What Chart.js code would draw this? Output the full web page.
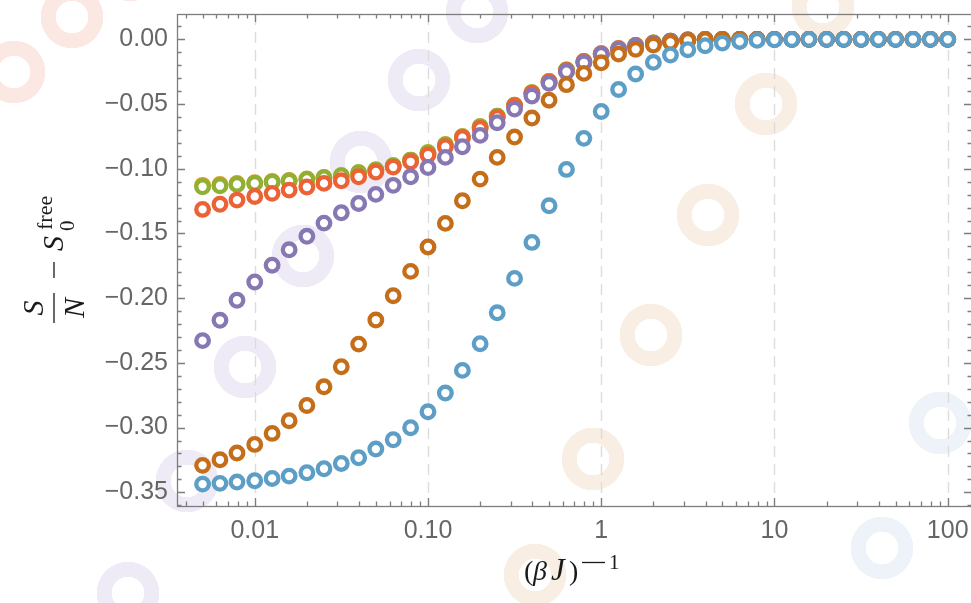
<!DOCTYPE html>
<html>
<head>
<meta charset="utf-8">
<script src="https://cdn.jsdelivr.net/npm/chart.js@4.4.1/dist/chart.umd.min.js"></script>
<style>
  html, body { margin: 0; padding: 0; background: #fff; overflow: hidden; }
  #wrap {
    position: relative; width: 971px; height: 603px; overflow: hidden; background: #fff;
    /* faint decorative rings behind the plot */
    background-image:
      radial-gradient(circle at 14px 72px, transparent 16px, #fce8e3 16.5px, #fce8e3 31px, transparent 31.5px),
      radial-gradient(circle at 72px 17px, transparent 16px, #fce8e3 16.5px, #fce8e3 31px, transparent 31.5px),
      radial-gradient(circle at 130px -30px, transparent 16px, #fce8e3 16.5px, #fce8e3 31px, transparent 31.5px),
      radial-gradient(circle at 128px 593px, transparent 16px, #efebf6 16.5px, #efebf6 31px, transparent 31.5px),
      radial-gradient(circle at 187px 481px, transparent 16px, #efebf6 16.5px, #efebf6 31px, transparent 31.5px),
      radial-gradient(circle at 245px 367px, transparent 16px, #efebf6 16.5px, #efebf6 31px, transparent 31.5px),
      radial-gradient(circle at 303px 256px, transparent 16px, #efebf6 16.5px, #efebf6 31px, transparent 31.5px),
      radial-gradient(circle at 361px 162px, transparent 16px, #efebf6 16.5px, #efebf6 31px, transparent 31.5px),
      radial-gradient(circle at 419px 80px, transparent 16px, #efebf6 16.5px, #efebf6 31px, transparent 31.5px),
      radial-gradient(circle at 477px 12px, transparent 16px, #efebf6 16.5px, #efebf6 31px, transparent 31.5px),
      radial-gradient(circle at 535px 575px, transparent 16px, #f9eee3 16.5px, #f9eee3 31px, transparent 31.5px),
      radial-gradient(circle at 593px 459px, transparent 16px, #f9eee3 16.5px, #f9eee3 31px, transparent 31.5px),
      radial-gradient(circle at 651px 335px, transparent 16px, #f9eee3 16.5px, #f9eee3 31px, transparent 31.5px),
      radial-gradient(circle at 708px 215px, transparent 16px, #f9eee3 16.5px, #f9eee3 31px, transparent 31.5px),
      radial-gradient(circle at 766px 104px, transparent 16px, #f9eee3 16.5px, #f9eee3 31px, transparent 31.5px),
      radial-gradient(circle at 823px 7px, transparent 16px, #f9eee3 16.5px, #f9eee3 31px, transparent 31.5px),
      radial-gradient(circle at 882px 548px, transparent 16px, #edf3f9 16.5px, #edf3f9 31px, transparent 31.5px),
      radial-gradient(circle at 940px 423px, transparent 16px, #edf3f9 16.5px, #edf3f9 31px, transparent 31.5px);
  }
  canvas { display: block; }
</style>
</head>
<body>
<div id="wrap"><canvas id="entropy-chart" width="972" height="603"></canvas></div>
<script>
// (beta J)^-1 sample points
const temps = [
  0.005, 0.0063, 0.0079, 0.01, 0.0126, 0.0158, 0.02, 0.0251, 0.0316, 0.0398,
  0.05, 0.063, 0.0794, 0.1, 0.126, 0.158, 0.2, 0.251, 0.316, 0.398,
  0.5, 0.63, 0.794, 1, 1.26, 1.58, 2, 2.51, 3.16, 3.98,
  5, 6.3, 7.94, 10, 12.6, 15.8, 20, 25.1, 31.6, 39.8,
  50, 63, 79.4, 100,
];

// S/N - S0free, one array per curve
const blueVals = [
  -0.3437, -0.3431, -0.3421, -0.3411, -0.3393, -0.3375, -0.3349, -0.3318, -0.3277, -0.3233,
  -0.3166, -0.3094, -0.3001, -0.2878, -0.2733, -0.2558, -0.2352, -0.2113, -0.1847, -0.1569,
  -0.1286, -0.1005, -0.0765, -0.0557, -0.0387, -0.0268, -0.0178, -0.0121, -0.0080, -0.0049,
  -0.0029, -0.0016, -0.0008, -0.0003, -0.0001, 0, 0, 0, 0, 0,
  0, 0, 0, 0,
];
const brownVals = [
  -0.3292, -0.3249, -0.3197, -0.3130, -0.3045, -0.2947, -0.2829, -0.2685, -0.2530, -0.2355,
  -0.2169, -0.1981, -0.1793, -0.1604, -0.1422, -0.1247, -0.1080, -0.0912, -0.0755, -0.0608,
  -0.0470, -0.0350, -0.0263, -0.0181, -0.0114, -0.0077, -0.0044, -0.0023, -0.0008, -0.0002,
  0, 0, 0, 0, 0, 0, 0, 0, 0, 0,
  0, 0, 0, 0,
];
const purpleVals = [
  -0.2328, -0.2171, -0.2016, -0.1875, -0.1745, -0.1626, -0.1522, -0.1420, -0.1340, -0.1268,
  -0.1198, -0.1128, -0.1062, -0.0990, -0.0912, -0.0830, -0.0742, -0.0644, -0.0539, -0.0438,
  -0.0340, -0.0250, -0.0181, -0.0116, -0.0077, -0.0052, -0.0031, -0.0015, -0.0005, 0,
  0, 0, 0, 0, 0, 0, 0, 0, 0, 0,
  0, 0, 0, 0,
];
const redVals = [
  -0.1314, -0.1274, -0.1242, -0.1214, -0.1190, -0.1165, -0.1141, -0.1113, -0.1093, -0.1062,
  -0.1025, -0.0987, -0.0946, -0.0894, -0.0830, -0.0760, -0.0688, -0.0603, -0.0515, -0.0417,
  -0.0330, -0.0240, -0.0172, -0.0112, -0.0073, -0.0048, -0.0029, -0.0014, -0.0005, 0,
  0, 0, 0, 0, 0, 0, 0, 0, 0, 0,
  0, 0, 0, 0,
];
const greenVals = [
  -0.1139, -0.1131, -0.1121, -0.1113, -0.1103, -0.1095, -0.1082, -0.1069, -0.1054, -0.1031,
  -0.1010, -0.0976, -0.0933, -0.0876, -0.0814, -0.0753, -0.0675, -0.0593, -0.0508, -0.0412,
  -0.0326, -0.0237, -0.0170, -0.0111, -0.0072, -0.0047, -0.0028, -0.0014, -0.0005, 0,
  0, 0, 0, 0, 0, 0, 0, 0, 0, 0,
  0, 0, 0, 0,
];
const orangeVals = [
  -0.1128, -0.1122, -0.1114, -0.1107, -0.1098, -0.1091, -0.1079, -0.1067, -0.1053, -0.1031,
  -0.1010, -0.0976, -0.0933, -0.0876, -0.0814, -0.0753, -0.0675, -0.0593, -0.0508, -0.0412,
  -0.0326, -0.0237, -0.0170, -0.0111, -0.0072, -0.0047, -0.0028, -0.0014, -0.0005, 0,
  0, 0, 0, 0, 0, 0, 0, 0, 0, 0,
  0, 0, 0, 0,
];

// Tick labels
const xTickValues = [0.01, 0.1, 1, 10, 100];
const xTickLabels = ['0.01', '0.10', '1', '10', '100'];
const yTickValues = [0, -0.05, -0.1, -0.15, -0.2, -0.25, -0.3, -0.35];
const yTickLabels = ['0.00', '\u22120.05', '\u22120.10', '\u22120.15', '\u22120.20', '\u22120.25', '\u22120.30', '\u22120.35'];

const toPoints = (vals) => temps.map((t, i) => ({ x: t, y: vals[i] }));

// Mathematica-ish ring markers
const ring = (label, vals, color) => ({
  label,
  data: toPoints(vals),
  borderColor: color,
  backgroundColor: '#ffffff',
  pointRadius: 6.3,
  pointHoverRadius: 6.3,
  borderWidth: 4.3,
  pointBorderWidth: 4.3,
  showLine: false,
});

// Frame, inward ticks, dashed decade grid and TeX-like axis titles
const framePlugin = {
  id: 'mmaFrame',
  beforeDatasetsDraw(chart) {
    const { ctx, chartArea: a, scales: { x } } = chart;
    ctx.save();
    ctx.strokeStyle = '#dcdcdc';
    ctx.lineWidth = 1.4;
    ctx.setLineDash([11, 7]);
    xTickValues.forEach((v) => {
      const px = Math.round(x.getPixelForValue(v)) + 0.5;
      ctx.beginPath();
      ctx.moveTo(px, a.top);
      ctx.lineTo(px, a.bottom);
      ctx.stroke();
    });
    ctx.restore();
  },
  afterDraw(chart) {
    const { ctx, chartArea: a, scales: { x, y } } = chart;
    ctx.save();
    ctx.strokeStyle = '#7d7d7d';
    ctx.lineWidth = 1.3;
    ctx.strokeRect(a.left + 0.5, a.top + 0.5, a.right - a.left, a.bottom - a.top);
    ctx.beginPath();
    // x ticks, bottom and top
    for (let d = -3; d <= 2; d += 1) {
      for (let m = 1; m <= 9; m += 1) {
        const v = m * 10 ** d;
        if (v < x.min || v > x.max) continue;
        const px = Math.round(x.getPixelForValue(v)) + 0.5;
        const len = m === 1 ? 8 : 4.5;
        ctx.moveTo(px, a.bottom);
        ctx.lineTo(px, a.bottom - len);
        ctx.moveTo(px, a.top);
        ctx.lineTo(px, a.top + len);
      }
    }
    // y ticks, left and right
    for (let k = -36; k <= 1; k += 1) {
      const py = Math.round(y.getPixelForValue(k / 100)) + 0.5;
      const len = k % 5 === 0 ? 8 : 4.5;
      ctx.moveTo(a.left, py);
      ctx.lineTo(a.left + len, py);
      ctx.moveTo(a.right, py);
      ctx.lineTo(a.right - len, py);
    }
    ctx.stroke();

    // y title: S/N - S_0^free (rotated)
    ctx.fillStyle = '#1a1a1a';
    ctx.strokeStyle = '#1a1a1a';
    ctx.lineWidth = 1.3;
    ctx.translate(63, 258);
    ctx.rotate(-Math.PI / 2);
    ctx.textBaseline = 'alphabetic';
    ctx.textAlign = 'center';
    ctx.font = 'italic 30px "Liberation Serif"';
    ctx.fillText('S', -50, -20);
    ctx.fillText('N', -50, 21);
    ctx.beginPath();
    ctx.moveTo(-65, -9);
    ctx.lineTo(-35, -9);
    ctx.moveTo(-20, -9);
    ctx.lineTo(-4, -9);
    ctx.stroke();
    ctx.textAlign = 'left';
    ctx.fillText('S', 7, 0);
    ctx.font = '22px "Liberation Serif"';
    ctx.fillText('free', 28, -11);
    ctx.font = '21px "Liberation Serif"';
    ctx.fillText('0', 27, 11);
    ctx.setTransform(1, 0, 0, 1, 0, 0);

    // x title: (beta J)^-1
    ctx.textAlign = 'left';
    ctx.font = '28px "Liberation Serif"';
    ctx.fillText('(', 524, 580);
    ctx.font = 'italic 28px "Liberation Serif"';
    ctx.fillText('\u03B2', 533, 580);
    ctx.font = 'italic 31px "Liberation Serif"';
    ctx.fillText('J', 551, 580);
    ctx.font = '28px "Liberation Serif"';
    ctx.fillText(')', 569, 580);
    ctx.beginPath();
    ctx.moveTo(582, 562.5);
    ctx.lineTo(605, 562.5);
    ctx.stroke();
    ctx.font = '21px "Liberation Serif"';
    ctx.fillText('1', 609, 569);
    ctx.restore();
  },
};

const ctx = document.getElementById('entropy-chart');
// eslint-disable-next-line no-unused-vars
const chart = new Chart(ctx, {
  type: 'scatter',
  data: {
    datasets: [
      // first dataset is drawn on top
      ring('blue', blueVals, '#5d9ec7'),
      ring('brown', brownVals, '#c56e1a'),
      ring('purple', purpleVals, '#8778b3'),
      ring('red', redVals, '#eb6235'),
      ring('green', greenVals, '#8fb032'),
      ring('orange', orangeVals, '#e19c24'),
    ],
  },
  options: {
    responsive: false,
    animation: false,
    layout: {
      autoPadding: false,
      padding: { top: 14, right: 0, bottom: 0, left: 0 },
    },
    scales: {
      x: {
        type: 'logarithmic',
        min: 0.003559,
        max: 138.1,
        grid: { display: false, drawTicks: false },
        border: { display: false },
        afterBuildTicks: (axis) => {
          axis.ticks = xTickValues.map((v) => ({ value: v }));
        },
        afterFit: (axis) => {
          axis.height = 97;
          axis.paddingLeft = 0;
          axis.paddingRight = 0;
        },
        ticks: {
          autoSkip: false,
          maxRotation: 0,
          padding: 10,
          color: '#666666',
          font: { family: '"Liberation Sans", Arial, sans-serif', size: 25 },
          callback: (value, i) => xTickLabels[i],
        },
      },
      y: {
        type: 'linear',
        min: -0.3606,
        max: 0.0196,
        grid: { display: false, drawTicks: false },
        border: { display: false },
        afterBuildTicks: (axis) => {
          axis.ticks = yTickValues.map((v) => ({ value: v }));
        },
        afterFit: (axis) => {
          axis.width = 177;
          axis.paddingTop = 0;
          axis.paddingBottom = 0;
        },
        ticks: {
          autoSkip: false,
          padding: 9,
          color: '#666666',
          font: { family: '"Liberation Sans", Arial, sans-serif', size: 25 },
          callback: (value, i) => yTickLabels[i],
        },
      },
    },
    plugins: {
      legend: { display: false },
      tooltip: { enabled: false },
    },
  },
  plugins: [framePlugin],
});
</script>
</body>
</html>
